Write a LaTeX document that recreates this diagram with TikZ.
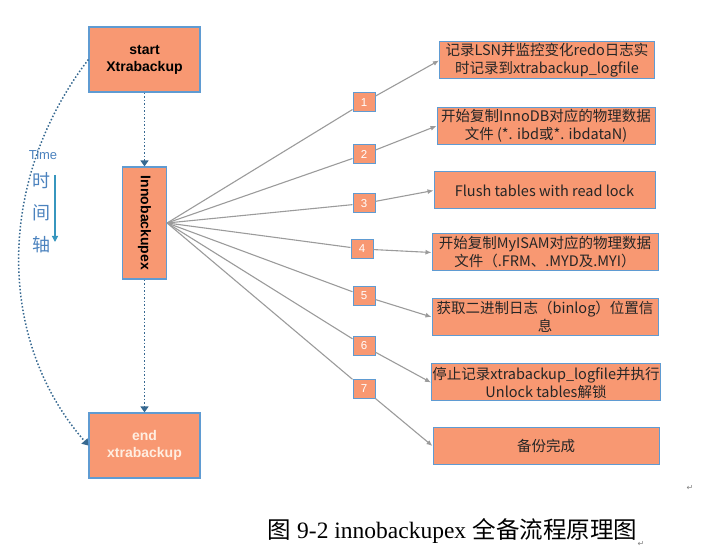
\documentclass[tikz,border=0pt]{standalone}
\usepackage{fontspec}
\setmainfont{Liberation Sans}
\newfontfamily\cjk{Noto Sans CJK SC}
\newfontfamily\capfont{Liberation Serif}
\newfontfamily\symfont{DejaVu Sans}
\usetikzlibrary{arrows.meta}
\definecolor{boxfill}{RGB}{248,152,114}
\definecolor{boxline}{RGB}{95,155,210}
\definecolor{fanline}{RGB}{155,155,155}
\definecolor{flowblue}{RGB}{55,105,145}
\definecolor{timeblue}{RGB}{75,130,190}
\definecolor{axisblue}{RGB}{55,150,190}
\definecolor{endtext}{RGB}{255,238,225}
\begin{document}
\begin{tikzpicture}
      [x=1pt, y=-1pt, >={Latex[length=6pt,width=5pt]},
       bigbox/.style={draw=boxline, fill=boxfill, line width=1.2pt, minimum width=111pt,
         minimum height=65pt, align=center, font=\fontsize{14}{17}\selectfont\bfseries},
       numbox/.style={draw=boxline, fill=boxfill, line width=1pt, minimum width=22pt,
         minimum height=19pt, inner sep=0pt, text=white, font=\fontsize{11.5}{13}\selectfont},
       task/.style={draw=boxline, fill=boxfill, line width=1pt, minimum width=226pt,
         minimum height=37pt, inner sep=1pt, align=center, text=black!85,
         font=\cjk\fontsize{14.5}{18}\selectfont},
       fan/.style={draw=fanline, line width=1.1pt},
       flow/.style={draw=flowblue, line width=1.5pt, dotted,
         -{Triangle[width=8pt,length=6pt]}},
       retmark/.style={inner sep=0pt, text=gray, font=\symfont\fontsize{8}{8}\selectfont}]
      \useasboundingbox (0,0) rectangle (716,548);
      \node[bigbox](start) at (144.5,59.5) {start\\Xtrabackup};
      \node[bigbox, minimum width=44pt, minimum height=112pt](inno) at (144.5,223) {\rotatebox{-90}{Innobackupex}};
      \node[bigbox, text=endtext](end) at (144.5,445.5) {end\\xtrabackup};
      \draw[flow](start.south) -- (inno.north);
      \draw[flow](inno.south) -- (end.north);
      \draw[flow](start.west) .. controls (-4,180) and (-4,340) .. (end.west);
      % time axis
      \node[text=timeblue, font=\fontsize{13}{15}\selectfont](time) at (43,155) {Time};
      \node[text=timeblue, font=\cjk\fontsize{18}{20}\selectfont](shi) at (41,181) {时};
      \node[text=timeblue, font=\cjk\fontsize{18}{20}\selectfont](jian) at (41,213) {间};
      \node[text=timeblue, font=\cjk\fontsize{18}{20}\selectfont](zhou) at (41,245) {轴};
      \coordinate(a1) at (55,175);
      \coordinate(a2) at (55,242);
      \draw[axisblue, line width=1.2pt, -{Triangle[width=6pt,length=6pt]}](a1) -- (a2);
      % steps
      \node[numbox](1) at (364,102.5) {1};
      \node[numbox](2) at (364,154.5) {2};
      \node[numbox](3) at (364,203.5) {3};
      \node[numbox](4) at (362,249) {4};
      \node[numbox](5) at (364,296) {5};
      \node[numbox](6) at (364,346) {6};
      \node[numbox](7) at (364,389) {7};
      \node[task, minimum width=215pt](t1) at (547,60.5) {记录LSN并监控变化redo日志实\\时记录到xtrabackup\_logfile};
      \node[task, minimum width=218pt](t2) at (546,126) {开始复制InnoDB对应的物理数据\\文件 (*. ibd或*. ibdataN)};
      \node[task, minimum width=221pt](t3) at (544.5,190.5) {Flush tables with read lock};
      \node[task](t4) at (545,252.5) {开始复制MyISAM对应的物理数据\\文件（.FRM、.MYD及.MYI）};
      \node[task](t5) at (545,317) {获取二进制日志（binlog）位置信\\息};
      \node[task](t6) at (546,382.5) {停止记录xtrabackup\_logfile并执行\\Unlock tables解锁};
      \node[task](t7) at (546,446) {备份完成};
      \foreach \n in {1,...,7} {
        \draw[fan](inno.east) -- (\n);
        \draw[fan,->](\n) -- (t\n.west);
      }
      % caption
      \node[anchor=west, inner sep=0pt, font=\fontsize{23.5}{26}\selectfont](cap) at (267,531)
        {{\cjk 图} {\capfont 9-2 innobackupex} {\cjk 全备流程原理图}};
      \node[retmark, anchor=south west](r1) at ([yshift=-3pt]cap.south east) {↵};
      \node[retmark](r2) at (690,488) {↵};
  \end{tikzpicture}
\end{document}
